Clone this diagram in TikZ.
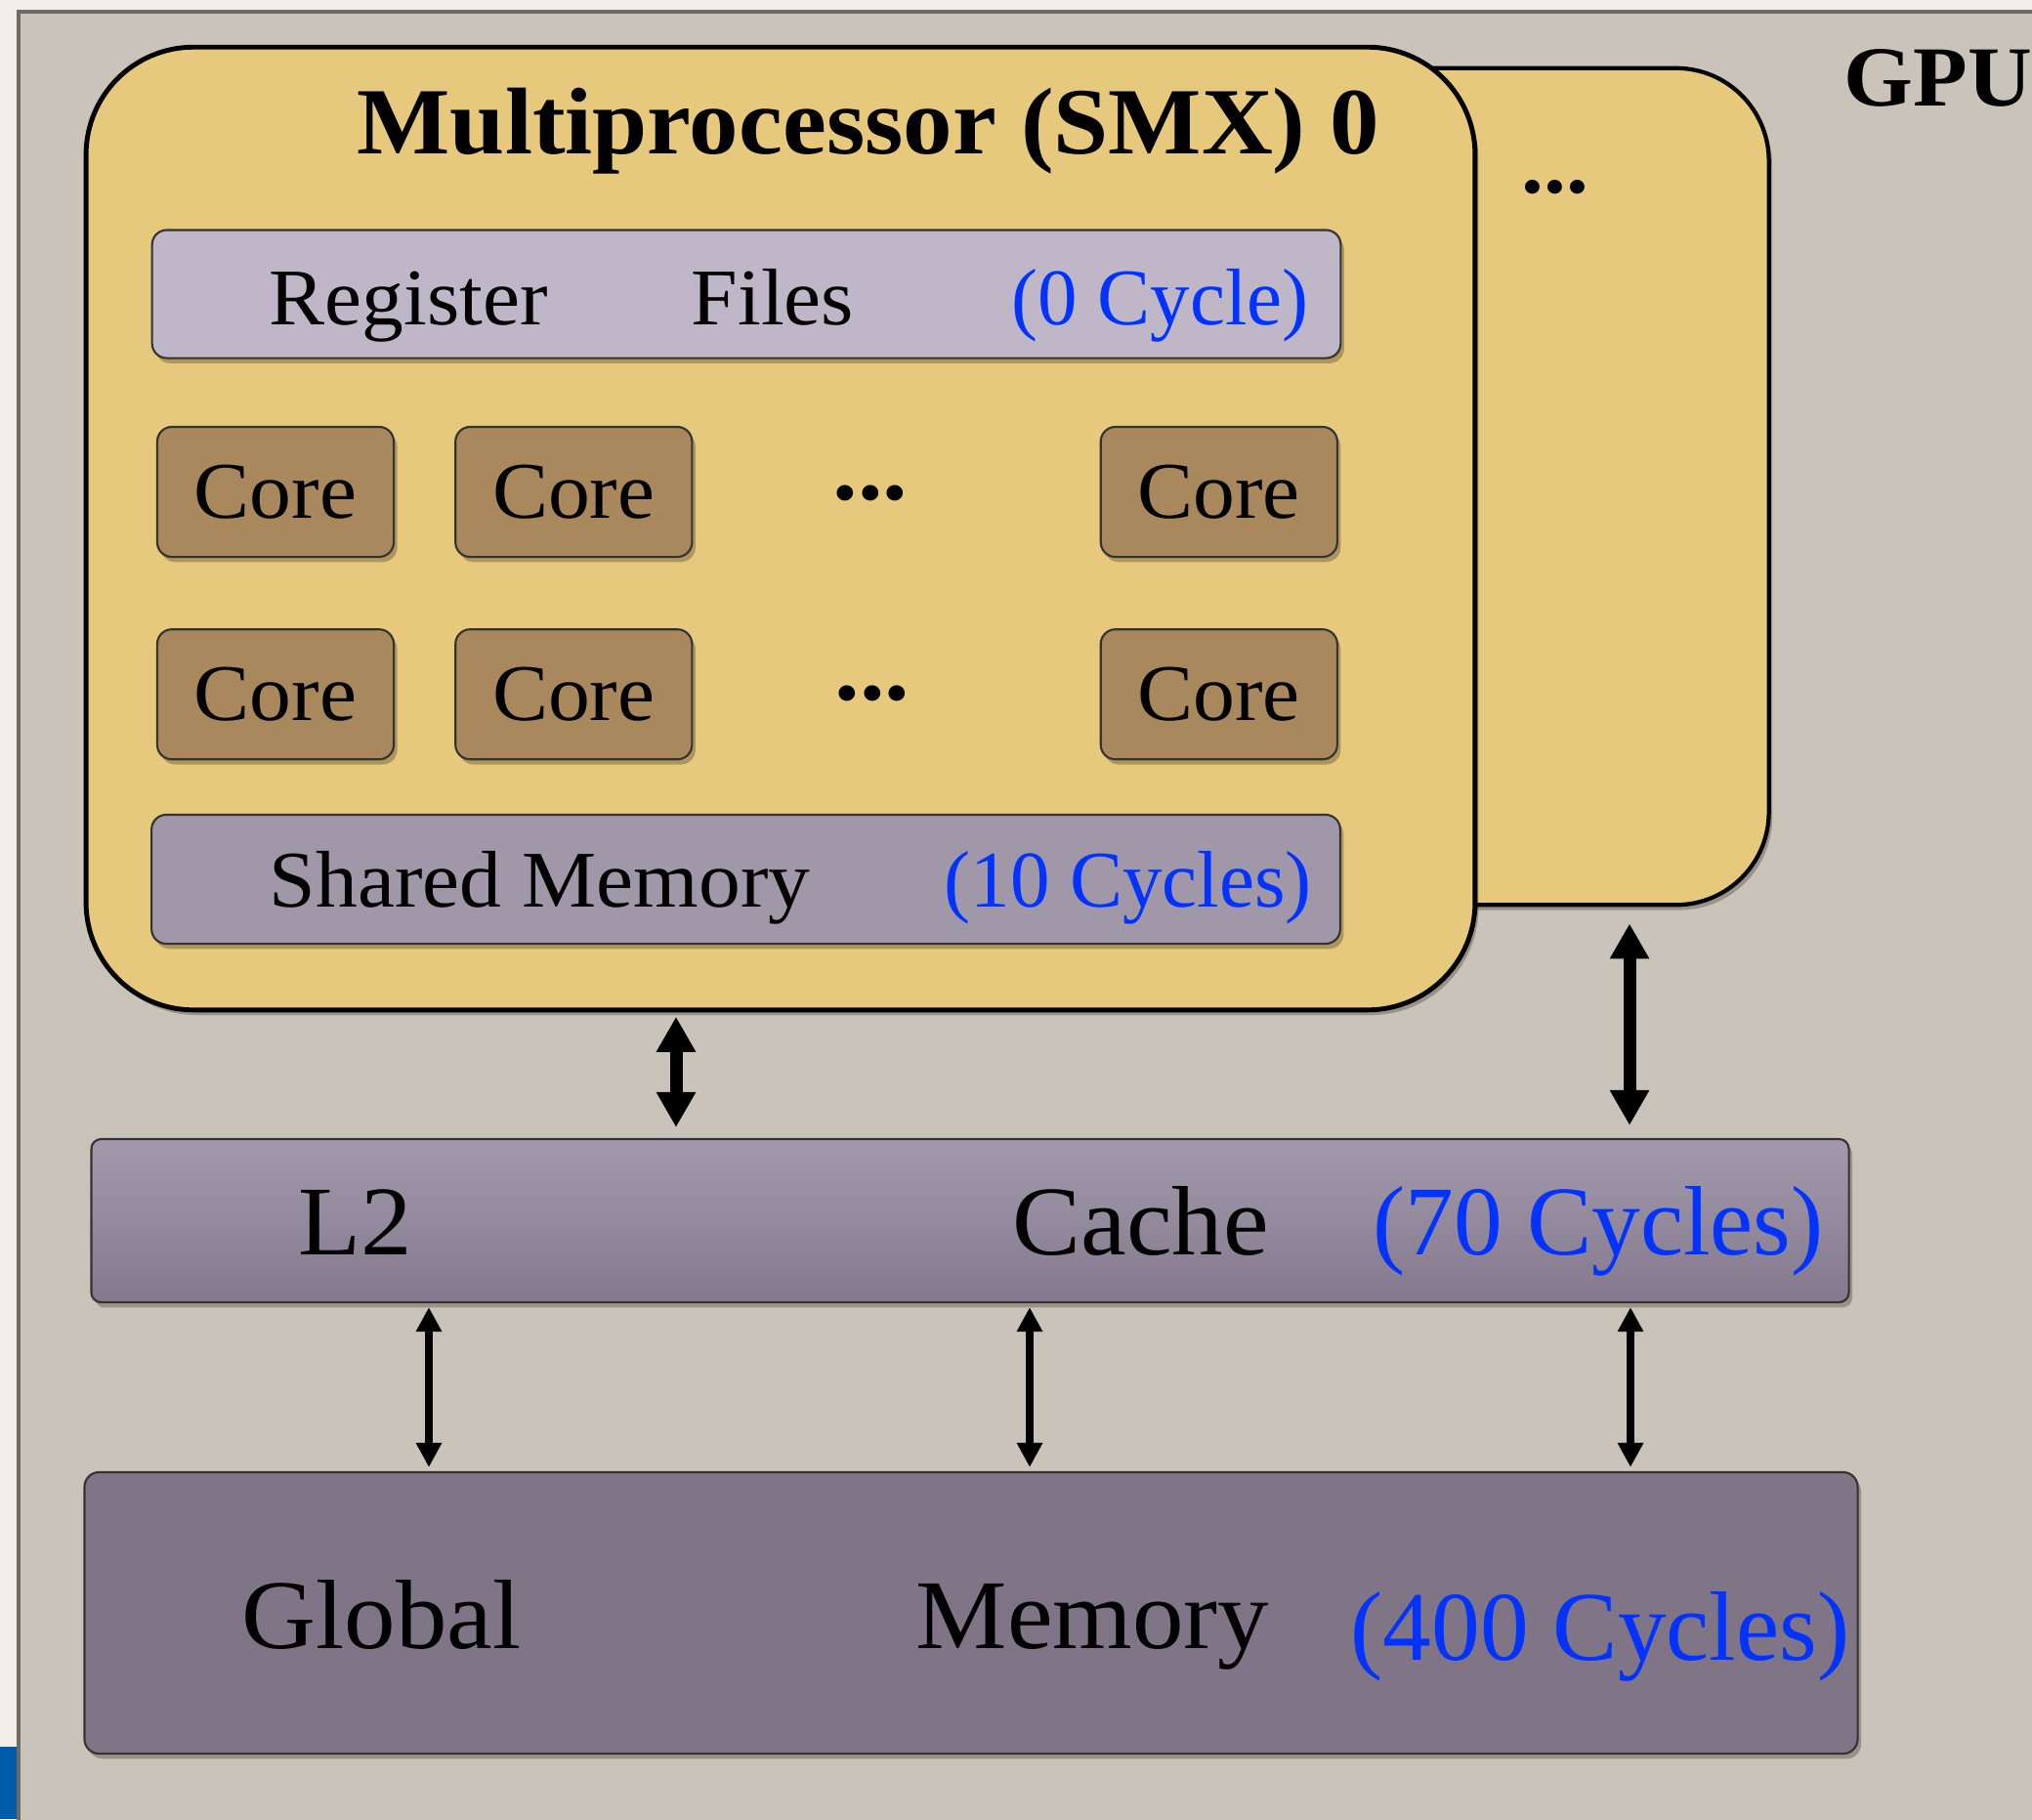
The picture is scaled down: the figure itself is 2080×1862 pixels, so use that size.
\documentclass[tikz,border=0pt]{standalone}
\usepackage{fontspec}
\setmainfont[FakeStretch=1.04]{Liberation Serif}
\newfontfamily\cycfont[FakeStretch=0.985]{Liberation Serif}
\usepackage{xcolor}
\usetikzlibrary{arrows.meta, shadows, positioning}
\definecolor{pagebg}{HTML}{F2EFE9}
\definecolor{gpufill}{HTML}{CAC3B9}
\definecolor{gpuline}{HTML}{6E6A64}
\definecolor{smxfill}{HTML}{E6C97C}
\definecolor{regfill}{HTML}{BFB7C8}
\definecolor{corefill}{HTML}{A8885C}
\definecolor{shmfill}{HTML}{A097A8}
\definecolor{ltop}{HTML}{A29AAC}
\definecolor{lbot}{HTML}{84798C}
\definecolor{glbfill}{HTML}{807487}
\definecolor{cyc}{HTML}{0033FF}
\definecolor{sideblue}{HTML}{005BAA}
\tikzstyle{softshadow} = [drop shadow={shadow xshift=1pt, shadow yshift=-1.5pt, opacity=0.25, fill=black}]
\tikzstyle{smx} = [rectangle, rounded corners=1.1cm, draw=black, line width=1.4pt, fill=smxfill, softshadow]
\tikzstyle{unit} = [rectangle, rounded corners=0.15cm, draw=black!80, line width=0.6pt, softshadow]
\tikzstyle{core} = [unit, fill=corefill, minimum width=2.42cm, minimum height=1.33cm, inner sep=0pt, font=\fontsize{23.4}{27}\selectfont]
\tikzstyle{label} = [inner sep=0pt, anchor=base west, font=\fontsize{23.4}{27}\selectfont]
\tikzstyle{biglabel} = [inner sep=0pt, anchor=base west, font=\fontsize{28.7}{33}\selectfont]
\tikzstyle{cycles} = [text=cyc, font=\cycfont\fontsize{23.4}{27}\selectfont]
\tikzstyle{bigcycles} = [text=cyc, font=\cycfont\fontsize{28.7}{33}\selectfont]
\tikzstyle{dots} = [inner sep=0pt, anchor=base, font=\fontsize{28}{32}\selectfont\bfseries]
\tikzstyle{busarrow} = [line width=0.13cm, {Triangle[width=0.38cm,length=0.36cm]}-{Triangle[width=0.38cm,length=0.36cm]}]
\tikzstyle{memarrow} = [line width=0.075cm, {Triangle[width=0.25cm,length=0.25cm]}-{Triangle[width=0.25cm,length=0.25cm]}]

\begin{document}
\begin{tikzpicture}[x=0.01cm, y=-0.01cm]
    \useasboundingbox (0,0) rectangle (2080,1862);
    \fill[pagebg] (0,0) rectangle (2080,1862);
    \fill[sideblue] (0,1788) rectangle (17,1862);
    \draw[gpuline, fill=gpufill, line width=1.4pt] (19,12) rectangle (2140,1920);
    \node (gpu) [label, font=\fontsize{24.9}{29}\selectfont\bfseries] at (1887,108) {GPU};

    % multiprocessors
    \node (smx1) [smx, line width=1.2pt, minimum width=5.11cm, minimum height=8.56cm, rounded corners=0.95cm] at (1555,498) {};
    \node (smx1dots) [dots, anchor=base west, font=\fontsize{25}{29}\selectfont\bfseries] at (1557,197) {...};
    \node (smx0) [smx, minimum width=14.21cm, minimum height=9.85cm] at (799,541) {};
    \node (title) [inner sep=0pt, anchor=base, font=\fontsize{27.6}{32}\selectfont\bfseries] at (889,157) {Multiprocessor (SMX) 0};

    \node (regs) [unit, fill=regfill, minimum width=12.16cm, minimum height=1.31cm] at (764,301) {};
    \node (regtxt) [label] at (275,332) {Register};
    \node (filetxt) [label] at (707,332) {Files};
    \node (regcyc) [label, cycles] at (1035,332) {(0 Cycle)};

    \node (c11) [core] at (282,503.5) {Core};
    \node (c12) [core, right=0.61cm of c11] {Core};
    \node (c13) [core, right=4.16cm of c12] {Core};
    \node (c21) [core, below=0.72cm of c11] {Core};
    \node (c22) [core, right=0.61cm of c21] {Core};
    \node (c23) [core, right=4.16cm of c22] {Core};
    \node (dots1) [dots] at (891,511) {...};
    \node (dots2) [dots] at (893,716) {...};

    \node (shm) [unit, fill=shmfill, minimum width=12.16cm, minimum height=1.32cm] at (763.5,900) {};
    \node (shmtxt) [label] at (275,928) {Shared Memory};
    \node (shmcyc) [label, cycles] at (966,928) {(10 Cycles)};

    % memory hierarchy
    \node (l2) [unit, rounded corners=0.1cm, top color=ltop, bottom color=lbot, minimum width=17.98cm, minimum height=1.67cm] at (993,1249.5) {};
    \node (l2txt) [biglabel] at (305,1284) {L2};
    \node (cachetxt) [biglabel] at (1036,1284) {Cache};
    \node (l2cyc) [biglabel, bigcycles] at (1405,1284) {(70 Cycles)};

    \node (glb) [unit, fill=glbfill, minimum width=18.14cm, minimum height=2.88cm] at (994,1651) {};
    \node (glbtxt) [biglabel] at (247,1687) {Global};
    \node (memtxt) [biglabel] at (937,1687) {Memory};
    \node (glbcyc) [biglabel, bigcycles] at (1382,1699) {(400 Cycles)};

    \coordinate (b0) at (692,0);
    \coordinate (b1) at (1668,0);
    \coordinate (m0) at (439,0);
    \coordinate (m1) at (1054,0);
    \coordinate (m2) at (1669,0);
    \draw [busarrow, shorten <=0.045cm, shorten >=0.11cm] (smx0.south -| b0) -- (l2.north -| b0);
    \draw [busarrow, shorten <=0.17cm, shorten >=0.13cm] (smx1.south -| b1) -- (l2.north -| b1);
    \foreach \m in {m0,m1,m2}
        \draw [memarrow, shorten <=0.04cm, shorten >=0.04cm] (l2.south -| \m) -- (glb.north -| \m);
\end{tikzpicture}
\end{document}
